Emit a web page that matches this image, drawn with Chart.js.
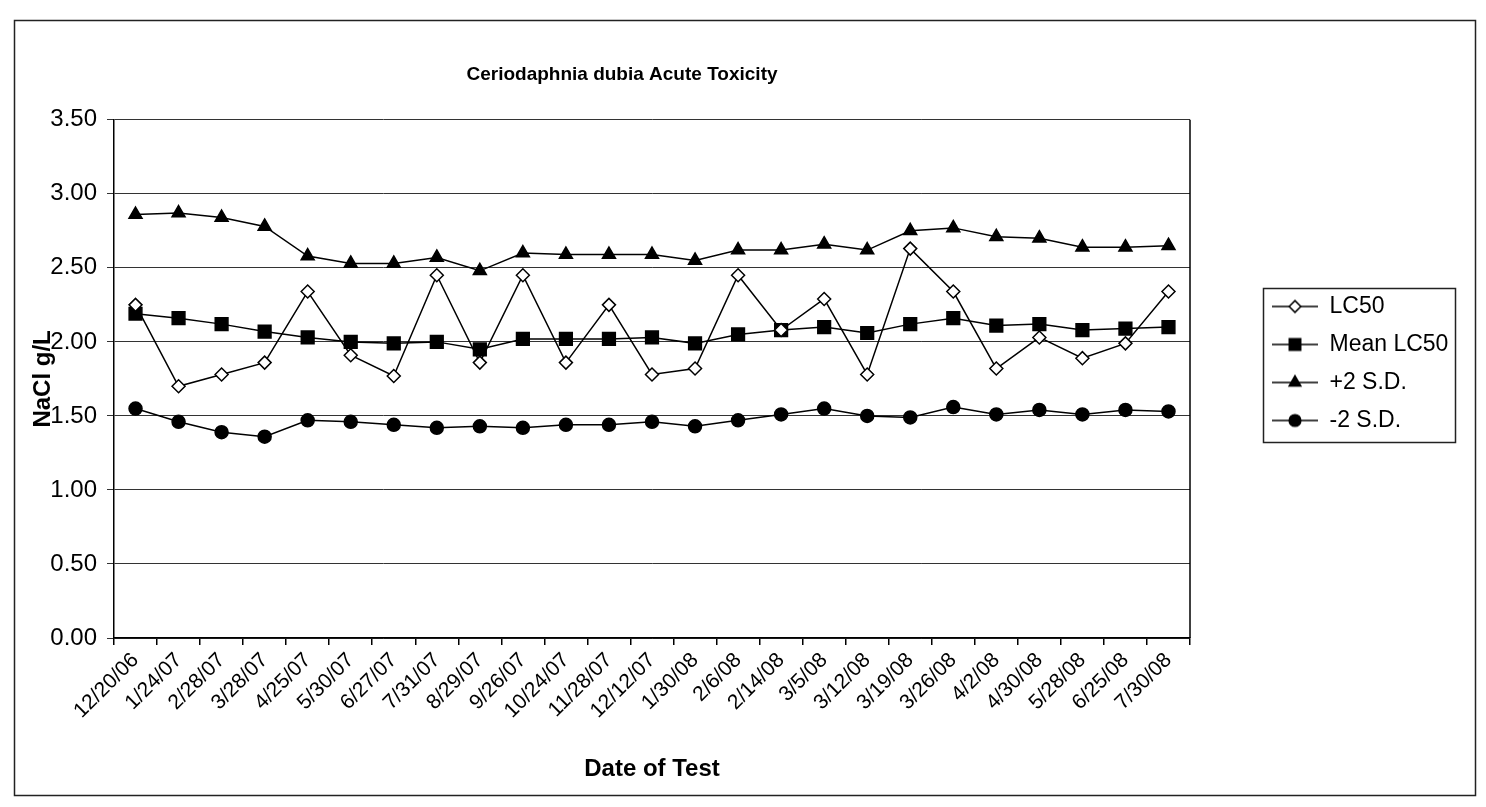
<!DOCTYPE html>
<html>
<head>
<meta charset="utf-8">
<title>Ceriodaphnia dubia Acute Toxicity</title>
<script src="https://cdn.jsdelivr.net/npm/chart.js@4.4.1/dist/chart.umd.min.js"></script>
<style>
  html, body { margin: 0; padding: 0; background: #fff; }
  canvas { display: block; }
</style>
</head>
<body>
<canvas id="chart" width="1486" height="807"></canvas>
<script>
// test dates (x categories)
const testDates = ['12/20/06', '1/24/07', '2/28/07', '3/28/07', '4/25/07', '5/30/07', '6/27/07', '7/31/07',
  '8/29/07', '9/26/07', '10/24/07', '11/28/07', '12/12/07', '1/30/08', '2/6/08', '2/14/08', '3/5/08',
  '3/12/08', '3/19/08', '3/26/08', '4/2/08', '4/30/08', '5/28/08', '6/25/08', '7/30/08'];

// NaCl g/L
const lc50 = [2.25, 1.70, 1.78, 1.86, 2.34, 1.91, 1.77, 2.45, 1.86, 2.45, 1.86, 2.25, 1.78,
  1.82, 2.45, 2.08, 2.29, 1.78, 2.63, 2.34, 1.82, 2.03, 1.89, 1.99, 2.34];
const meanLc50 = [2.19, 2.16, 2.12, 2.07, 2.03, 2.00, 1.99, 2.00, 1.95, 2.02, 2.02, 2.02, 2.03,
  1.99, 2.05, 2.08, 2.10, 2.06, 2.12, 2.16, 2.11, 2.12, 2.08, 2.09, 2.10];
const plus2sd = [2.86, 2.87, 2.84, 2.78, 2.58, 2.53, 2.53, 2.57, 2.48, 2.60, 2.59, 2.59, 2.59,
  2.55, 2.62, 2.62, 2.66, 2.62, 2.75, 2.77, 2.71, 2.70, 2.64, 2.64, 2.65];
const minus2sd = [1.55, 1.46, 1.39, 1.36, 1.47, 1.46, 1.44, 1.42, 1.43, 1.42, 1.44, 1.44, 1.46,
  1.43, 1.47, 1.51, 1.55, 1.50, 1.49, 1.56, 1.51, 1.54, 1.51, 1.54, 1.53];

const seriesNames = ['LC50', 'Mean LC50', '+2 S.D.', '-2 S.D.'];
const yTicks = [0, 0.5, 1, 1.5, 2, 2.5, 3, 3.5];

const FONT = 'Arial, "Liberation Sans", sans-serif';

const markers = [
  { pointStyle: 'rectRot', radius: 6.5, fill: '#ffffff' },
  { pointStyle: 'rect', radius: 9, fill: '#000000' },
  { pointStyle: 'triangle', radius: 7.5, fill: '#000000' },
  { pointStyle: 'circle', radius: 6.5, fill: '#000000' }
];

// little line + marker pictures for the legend, like Excel draws them
function legendIcon(m) {
  const c = document.createElement('canvas');
  c.width = 46; c.height = 18;
  const ctx = c.getContext('2d');
  ctx.strokeStyle = '#000';
  ctx.lineWidth = 1.5;
  ctx.beginPath();
  ctx.moveTo(0, 9); ctx.lineTo(46, 9);
  ctx.stroke();
  ctx.fillStyle = m.fill;
  Chart.helpers.drawPoint(ctx, { pointStyle: m.pointStyle, radius: m.radius * 0.9, rotation: 0, borderWidth: 1.5 }, 23, 9);
  return c;
}

const frame = {
  id: 'frame',
  beforeDraw(chart) {
    const ctx = chart.ctx;
    ctx.save();
    ctx.fillStyle = '#fff';
    ctx.fillRect(0, 0, chart.width, chart.height);
    ctx.strokeStyle = '#222';
    ctx.lineWidth = 1.5;
    ctx.strokeRect(14.5, 20.5, 1461, 775);
    ctx.restore();
  },
  beforeDatasetsDraw(chart) {
    const { ctx, chartArea: a } = chart;
    ctx.save();
    ctx.strokeStyle = '#000';
    ctx.lineWidth = 1.5;
    ctx.beginPath();
    ctx.moveTo(a.right, a.top);
    ctx.lineTo(a.right, a.bottom);
    ctx.stroke();
    ctx.restore();
  }
};

// put the legend where Excel had it and box it in
const legendPlace = {
  id: 'legendPlace',
  afterLayout(chart) {
    const lg = chart.legend;
    lg.left = 1257; lg.width = 225; lg.right = lg.left + lg.width;
    lg.top = 280; lg.height = 200; lg.bottom = lg.top + lg.height;
  },
  afterDraw(chart) {
    const boxes = chart.legend.legendHitBoxes;
    if (!boxes || !boxes.length) return;
    let l = Infinity, t = Infinity, r = -Infinity, b = -Infinity;
    boxes.forEach(h => {
      l = Math.min(l, h.left); t = Math.min(t, h.top);
      r = Math.max(r, h.left + h.width); b = Math.max(b, h.top + h.height);
    });
    const ctx = chart.ctx;
    ctx.save();
    ctx.strokeStyle = '#222';
    ctx.lineWidth = 1.5;
    ctx.strokeRect(Math.round(l - 9) + 0.5, Math.round(t - 7) + 0.5, Math.round(r - l + 16), Math.round(b - t + 17));
    ctx.restore();
  }
};

const datasets = [lc50, meanLc50, plus2sd, minus2sd].map((vals, i) => ({
  label: seriesNames[i],
  data: vals,
  borderColor: '#000',
  borderWidth: 1.5,
  backgroundColor: markers[i].fill,
  pointStyle: markers[i].pointStyle,
  pointRadius: markers[i].radius,
  pointBackgroundColor: markers[i].fill,
  pointBorderColor: '#000',
  pointBorderWidth: 1.5,
  tension: 0,
  fill: false
}));

const legendIcons = markers.map(legendIcon);

new Chart(document.getElementById('chart'), {
  type: 'line',
  data: { labels: testDates, datasets },
  plugins: [frame, legendPlace],
  options: {
    responsive: false,
    animation: false,
    devicePixelRatio: 1,
    layout: { padding: { left: 14, top: 20, right: 256, bottom: 11 } },
    plugins: {
      title: {
        display: true,
        text: 'Ceriodaphnia dubia Acute Toxicity',
        color: '#000',
        font: { family: FONT, size: 19, weight: 'bold' },
        padding: { top: 43, bottom: 34 }
      },
      legend: {
        position: 'right',
        align: 'start',
        maxWidth: 40,
        labels: {
          color: '#000',
          font: { family: FONT, size: 23 },
          usePointStyle: true,
          pointStyleWidth: 46,
          padding: 15,
          generateLabels(chart) {
            const items = Chart.defaults.plugins.legend.labels.generateLabels(chart);
            items.forEach((it, i) => { it.pointStyle = legendIcons[i]; });
            return items;
          }
        }
      },
      tooltip: { enabled: false }
    },
    scales: {
      x: {
        type: 'category',
        offset: true,
        afterFit(scale) { scale.height = 158; },
        grid: { display: true, drawOnChartArea: false, drawTicks: true, tickLength: 7, color: '#000', lineWidth: 1.5, offset: true },
        border: { color: '#000', width: 1.5 },
        ticks: {
          color: '#000',
          font: { family: FONT, size: 21 },
          minRotation: 45,
          maxRotation: 45,
          autoSkip: false,
          padding: 3
        },
        title: {
          display: true,
          text: 'Date of Test',
          color: '#000',
          font: { family: FONT, size: 24, weight: 'bold' },
          padding: { top: 0, bottom: 12 }
        }
      },
      y: {
        min: yTicks[0],
        max: yTicks[yTicks.length - 1],
        afterFit(scale) { scale.width = 100; },
        afterBuildTicks(scale) { scale.ticks = yTicks.map(v => ({ value: v })); },
        grid: { color: '#333', lineWidth: 1, tickLength: 7 },
        border: { color: '#000', width: 1.5 },
        ticks: {
          color: '#000',
          font: { family: FONT, size: 24 },
          padding: 10,
          callback: v => Number(v).toFixed(2)
        },
        title: {
          display: true,
          text: 'NaCl g/L',
          color: '#000',
          font: { family: FONT, size: 24, weight: 'bold' },
          padding: { top: 15, bottom: 0 }
        }
      }
    }
  }
});
</script>
</body>
</html>
